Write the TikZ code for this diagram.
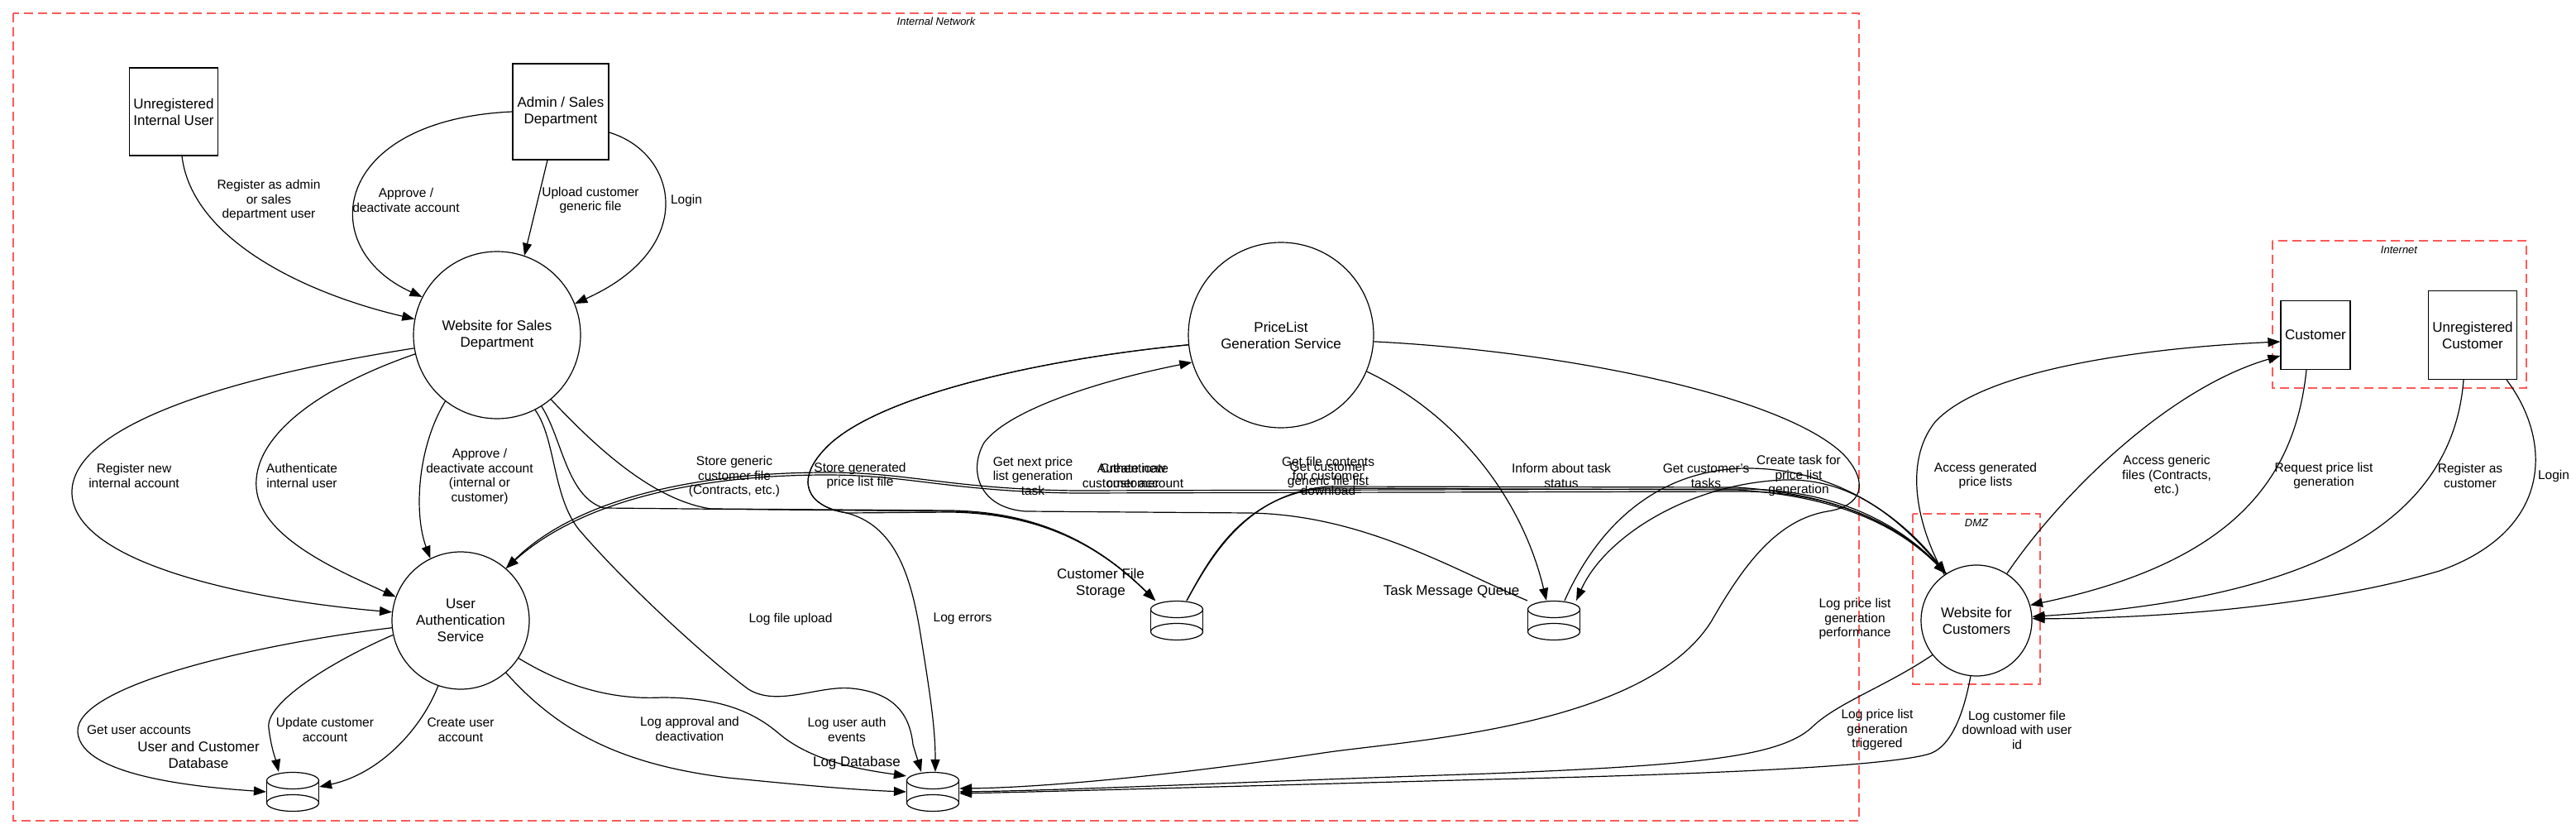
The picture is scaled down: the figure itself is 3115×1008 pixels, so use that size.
\documentclass[tikz,border=0pt]{standalone}
\usepackage{fontspec}
\setmainfont{Liberation Sans}
\usepackage{tikz}
\definecolor{zoneRed}{RGB}{255,90,90}
\usetikzlibrary{arrows.meta}
\newcommand{\nodeFont}{\fontsize{17}{20}\selectfont}
\newcommand{\flowFont}{\fontsize{15.5}{17.5}\selectfont}
\newcommand{\zoneFont}{\fontsize{13}{15}\selectfont\itshape}
\tikzstyle{actor} = [draw, rectangle, inner sep=0pt, align=center, font=\nodeFont]
\tikzstyle{process} = [draw, circle, inner sep=0pt, align=center, font=\nodeFont]
\tikzstyle{store} = [rectangle, inner sep=0pt, minimum width=63pt, minimum height=47pt]
\tikzstyle{storeLabel} = [align=center, font=\nodeFont, inner sep=0pt]
\tikzstyle{flowLabel} = [align=center, font=\flowFont, inner sep=0pt]
\tikzstyle{zone} = [draw=zoneRed, line width=2pt, dash pattern=on 11pt off 6pt]
\tikzstyle{zoneLabel} = [font=\zoneFont, inner sep=0pt]
\tikzstyle{flow} = [draw, ->]
\newcommand{\drawStore}[1]{%
  \draw ([yshift=13.5pt]#1.center) ellipse [x radius=31.5pt, y radius=10pt];
  \draw ([yshift=-13.5pt]#1.center) ellipse [x radius=31.5pt, y radius=10pt];
  \draw ([shift={(-31.5pt,13.5pt)}]#1.center) -- ([shift={(-31.5pt,-13.5pt)}]#1.center);
  \draw ([shift={(31.5pt,13.5pt)}]#1.center) -- ([shift={(31.5pt,-13.5pt)}]#1.center);}

\begin{document}
\begin{tikzpicture}[x=1pt, y=-1pt, line width=1.2pt, >={Triangle[length=15pt,width=11pt]}]
        \useasboundingbox (0,0) rectangle (3115,1008);
        % Trust boundaries first
        \draw[zone] (16,16) rectangle (2248,992);
        \node[zoneLabel] (lblInternal) at (1132,26) {Internal Network};
        \draw[zone] (2748,291) rectangle (3055,469);
        \node[zoneLabel] (lblInternet) at (2901,302) {Internet};
        \draw[zone] (2313,621) rectangle (2467,827);
        \node[zoneLabel] (lblDmz) at (2390,632) {DMZ};

        % External actors, processes and data stores
        \node[actor, minimum width=107pt, minimum height=106pt] (uiu) at (210,135) {Unregistered\\Internal User};
        \node[actor, minimum width=116pt, minimum height=116pt] (adm) at (678,135) {Admin / Sales\\Department};
        \node[actor, minimum width=84pt, minimum height=83pt] (cust) at (2800,405) {Customer};
        \node[actor, minimum width=107pt, minimum height=107pt] (ucust) at (2990,405) {Unregistered\\Customer};
        \node[process, minimum size=202pt] (wsd) at (601,405) {Website for Sales\\Department};
        \node[process, minimum size=166pt] (uas) at (557,750) {User\\Authentication\\Service};
        \node[process, minimum size=224pt] (plgs) at (1549,405) {PriceList\\Generation Service};
        \node[process, minimum size=134pt] (wfc) at (2390,750) {Website for\\Customers};
        \node[store] (udb) at (354,957) {};
        \node[store] (logdb) at (1128,957) {};
        \node[store] (cfs) at (1423,750) {};
        \node[store] (tmq) at (1879,750) {};
        \drawStore{udb}
        \drawStore{logdb}
        \drawStore{cfs}
        \drawStore{tmq}
        \node[storeLabel] (lblUdb) at (240,912) {User and Customer\\Database};
        \node[storeLabel] (lblLogdb) at (1036,922) {Log Database};
        \node[storeLabel] (lblCfs) at (1331,705) {Customer File\\Storage};
        \node[storeLabel] (lblTmq) at (1755,715) {Task Message Queue};

        % Flows into the sales website
        \draw[flow] ([xshift=10pt]uiu.south) .. controls (232,290) and (370,355) .. (wsd.169);
        \draw[flow] (adm.west) .. controls (400,145) and (380,300) .. (wsd.153);
        \draw[flow] ([xshift=-16pt]adm.south) -- (wsd.71);
        \draw[flow] ([yshift=-25pt]adm.east) .. controls (820,185) and (845,300) .. (wsd.22);

        % Sales website to the back end
        \draw[flow] (wsd.189) .. controls (250,460) and (90,520) .. (87,593) .. controls (84,680) and (300,725) .. (uas.173);
        \draw[flow] (wsd.193) .. controls (380,470) and (305,530) .. (310,590) .. controls (315,650) and (410,690) .. (uas.160);
        \draw[flow] (wsd.232) .. controls (505,540) and (500,620) .. (uas.116);
        \draw[flow] (wsd.-58) .. controls (680,530) and (685,600) .. (730,614) -- (1150,618) .. controls (1260,620) and (1330,660) .. ([xshift=-26pt]cfs.north);
        \draw[flow] (wsd.-50) .. controls (720,540) and (790,605) .. (860,615) -- (1150,617) .. controls (1260,619) and (1330,660) .. ([xshift=-26pt]cfs.north);
        \draw[flow] (wsd.-63) .. controls (672,530) and (668,600) .. (700,640) .. controls (760,710) and (860,800) .. (905,833) .. controls (940,855) and (990,828) .. (1030,832) .. controls (1080,837) and (1100,862) .. (1104,900) -- ([xshift=-14pt]logdb.north);

        % User authentication service
        \draw[flow] (uas.186) .. controls (300,780) and (90,830) .. (94,885) .. controls (98,940) and (250,952) .. (udb.west);
        \draw[flow] (uas.192) .. controls (400,800) and (320,850) .. (325,880) .. controls (328,905) and (334,920) .. ([xshift=-17pt]udb.north);
        \draw[flow] (uas.251) .. controls (510,880) and (460,935) .. ([yshift=6pt]udb.east);
        \draw[flow] (uas.-49) .. controls (680,890) and (760,925) .. (880,940) .. controls (980,950) and (1040,955) .. (logdb.west);
        \draw[flow] (uas.-33) .. controls (700,840) and (760,845) .. (800,843) .. controls (870,843) and (910,860) .. (940,885) .. controls (980,920) and (1040,930) .. ([yshift=-5pt]logdb.north west);

        % Price list generation service
        \draw[flow] (plgs.186) .. controls (1250,435) and (1060,480) .. (1000,540) .. controls (960,580) and (975,612) .. (1024,620) -- (1150,619) .. controls (1260,621) and (1330,660) .. ([xshift=-26pt]cfs.north);
        \draw[flow] (plgs.186) .. controls (1250,435) and (1060,480) .. (1000,540) .. controls (960,580) and (975,612) .. (1024,620) .. controls (1080,635) and (1100,690) .. (1112,760) .. controls (1125,840) and (1131,880) .. ([xshift=3pt]logdb.north);
        \draw[flow] (tmq.north west) .. controls (1760,690) and (1650,622) .. (1510,620) -- (1240,618) .. controls (1185,614) and (1170,570) .. (1190,535) .. controls (1220,495) and (1330,460) .. (plgs.197);
        \draw[flow] (plgs.-23) .. controls (1760,500) and (1840,600) .. ([xshift=-9pt]tmq.north);
        \draw[flow] (plgs.-4) .. controls (1900,425) and (2160,480) .. (2230,550) .. controls (2262,585) and (2250,612) .. (2210,618) .. controls (2150,628) and (2110,680) .. (2070,750) .. controls (1990,880) and (1700,895) .. (1600,910) .. controls (1400,940) and (1250,952) .. ([yshift=4pt]logdb.east);

        % Customer website
        \draw[flow] (wfc.123) .. controls (2290,620) and (2200,592) .. (2110,591) -- (1300,593) .. controls (1150,591) and (1100,571) .. (1000,571) .. controls (850,571) and (700,600) .. (uas.49);
        \draw[flow] (wfc.123) .. controls (2290,623) and (2200,595) .. (2110,594) -- (1300,596) .. controls (1150,594) and (1100,574) .. (1000,574) .. controls (850,574) and (705,603) .. (uas.49);
        \draw[flow] ([xshift=12pt]cfs.north) .. controls (1460,680) and (1500,600) .. (1600,590) -- (2100,592) .. controls (2230,600) and (2300,640) .. (wfc.123);
        \draw[flow] ([xshift=12pt]cfs.north) .. controls (1462,678) and (1505,597) .. (1605,588) -- (2100,589) .. controls (2232,598) and (2302,640) .. (wfc.123);
        \draw[flow] ([xshift=13pt]tmq.north) .. controls (1930,640) and (2000,568) .. (2110,566) .. controls (2220,565) and (2300,625) .. (wfc.123);
        \draw[flow] (wfc.123) .. controls (2290,615) and (2230,578) .. (2157,580) .. controls (2040,585) and (1940,650) .. ([xshift=-5pt]tmq.north east);
        \draw[flow] (wfc.218) .. controls (2280,830) and (2220,850) .. (2190,880) .. controls (2150,915) and (2050,925) .. (1800,935) .. controls (1500,945) and (1300,955) .. (logdb.east);
        \draw[flow] (wfc.264) .. controls (2375,860) and (2360,905) .. (2330,912) .. controls (2280,925) and (2100,935) .. (1800,942) .. controls (1500,950) and (1300,956) .. ([yshift=-2pt]logdb.east);

        % Internet side
        \draw[flow] (wfc.125) .. controls (2320,640) and (2300,560) .. (2340,510) .. controls (2400,445) and (2600,420) .. ([yshift=-8pt]cust.west);
        \draw[flow] (wfc.57) .. controls (2490,600) and (2620,470) .. ([yshift=-25pt]cust.west);
        \draw[flow] ([xshift=-11pt]cust.south) .. controls (2775,580) and (2700,680) .. (wfc.16);
        \draw[flow] ([xshift=-11pt]ucust.south) .. controls (2965,640) and (2780,725) .. (wfc.4);
        \draw[flow] ([xshift=41pt]ucust.south) .. controls (3085,530) and (3090,640) .. (2950,690) .. controls (2780,740) and (2560,748) .. (wfc.2);

        % Flow labels
        \node[flowLabel] (lRegInternal) at (325,242) {Register as admin\\or sales\\department user};
        \node[flowLabel] (lApprove) at (491,242) {Approve /\\deactivate account};
        \node[flowLabel] (lUpload) at (714,242) {Upload customer\\generic file};
        \node[flowLabel] (lLoginSales) at (830,242) {Login};
        \node[flowLabel] (lRegNew) at (162,575) {Register new\\internal account};
        \node[flowLabel] (lAuthInternal) at (365,575) {Authenticate\\internal user};
        \node[flowLabel] (lApproveAuth) at (580,576) {Approve /\\deactivate account\\(internal or\\customer)};
        \node[flowLabel] (lStoreGeneric) at (888,576) {Store generic\\customer file\\(Contracts, etc.)};
        \node[flowLabel] (lLogUpload) at (956,748) {Log file upload};
        \node[flowLabel] (lGetUsers) at (168,882) {Get user accounts};
        \node[flowLabel] (lUpdateCust) at (393,882) {Update customer\\account};
        \node[flowLabel] (lCreateUser) at (557,882) {Create user\\account};
        \node[flowLabel] (lLogApproval) at (834,881) {Log approval and\\deactivation};
        \node[flowLabel] (lLogAuth) at (1024,882) {Log user auth\\events};
        \node[flowLabel] (lStoreGenerated) at (1040,575) {Store generated\\price list file};
        \node[flowLabel] (lLogErrors) at (1164,748) {Log errors};
        \node[flowLabel] (lNextTask) at (1249,575) {Get next price\\list generation\\task};
        \node[flowLabel] (lAuthCust) at (1370,575) {Authenticate\\customer};
        \node[flowLabel] (lCreateCust) at (1370,575) {Create new\\customer account};
        \node[flowLabel] (lFileContents) at (1606,575) {Get file contents\\for customer\\download};
        \node[flowLabel] (lFileList) at (1606,574) {Get customer\\generic file list};
        \node[flowLabel] (lTaskStatus) at (1888,575) {Inform about task\\status};
        \node[flowLabel] (lCustTasks) at (2063,575) {Get customer's\\tasks};
        \node[flowLabel] (lCreateTask) at (2175,575) {Create task for\\price list\\generation};
        \node[flowLabel] (lLogPerf) at (2243,748) {Log price list\\generation\\performance};
        \node[flowLabel] (lLogTrig) at (2270,882) {Log price list\\generation\\triggered};
        \node[flowLabel] (lLogDownload) at (2439,882) {Log customer file\\download with user\\id};
        \node[flowLabel] (lAccessLists) at (2401,575) {Access generated\\price lists};
        \node[flowLabel] (lAccessFiles) at (2620,575) {Access generic\\files (Contracts,\\etc.)};
        \node[flowLabel] (lRequest) at (2810,575) {Request price list\\generation};
        \node[flowLabel] (lRegCust) at (2987,575) {Register as\\customer};
        \node[flowLabel] (lLoginCust) at (3088,575) {Login};
\end{tikzpicture}
\end{document}
